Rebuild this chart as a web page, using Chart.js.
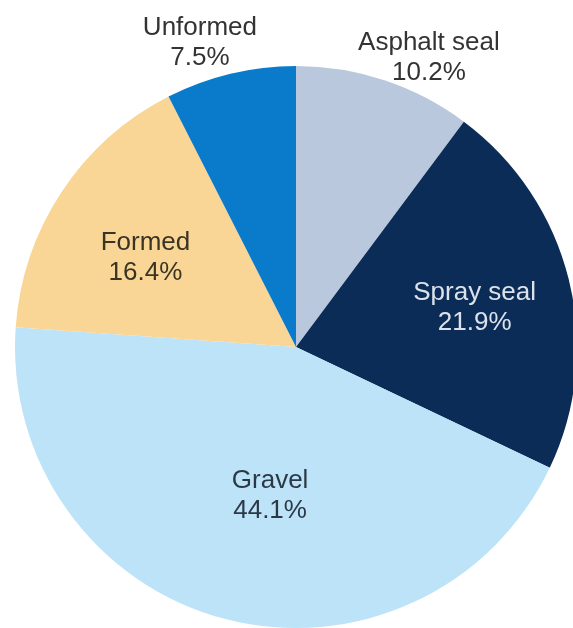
<!DOCTYPE html>
<html>
<head>
<meta charset="utf-8">
<title>Road surface types</title>
<script src="https://cdn.jsdelivr.net/npm/chart.js@4/dist/chart.umd.min.js"></script>
<style>
  html, body { margin: 0; padding: 0; background: #ffffff; overflow: hidden; }
  #wrap { position: relative; width: 573px; height: 628px; overflow: hidden; }
  #pie { position: absolute; left: 0; top: 0; }
</style>
</head>
<body>
<div id="wrap">
  <canvas id="pie" width="580" height="628"></canvas>
</div>
<script>
  // Share of road length by surface type (%)
  const surfaces = ["Asphalt seal", "Spray seal", "Gravel", "Formed", "Unformed"];
  const shares = [10.2, 21.9, 44.1, 16.4, 7.5];

  const sliceColors = ["#b9c8dd", "#0a2c56", "#bde3f8", "#f9d696", "#0a7aca"];
  const labelColors = ["#333333", "#dbe2ec", "#2b3946", "#3a3425", "#333333"];

  // where each label sits: fraction of radius along the slice middle, plus a nudge in px
  const labelSpots = [
    { k: 1.13, dx: 33, dy: 12 },
    { k: 0.6, dx: 15, dy: 1 },
    { k: 0.6, dx: 17, dy: -14 },
    { k: 0.6, dx: -10, dy: 4 },
    { k: 1.13, dx: -22, dy: 5 },
  ];

  const sliceLabels = {
    id: "sliceLabels",
    afterDatasetsDraw(chart) {
      const { ctx } = chart;
      const arcs = chart.getDatasetMeta(0).data;
      ctx.save();
      ctx.font = "26px 'Liberation Sans', Arial, sans-serif";
      ctx.textAlign = "center";
      ctx.textBaseline = "middle";
      arcs.forEach((arc, i) => {
        const mid = (arc.startAngle + arc.endAngle) / 2;
        const spot = labelSpots[i];
        const x = arc.x + Math.cos(mid) * arc.outerRadius * spot.k + spot.dx;
        const y = arc.y + Math.sin(mid) * arc.outerRadius * spot.k + spot.dy;
        ctx.fillStyle = labelColors[i];
        ctx.fillText(surfaces[i], x, y - 15);
        ctx.fillText(shares[i].toFixed(1) + "%", x, y + 15);
      });
      ctx.restore();
    },
  };

  new Chart(document.getElementById("pie"), {
    type: "pie",
    data: {
      labels: surfaces,
      datasets: [
        {
          data: shares,
          backgroundColor: sliceColors,
          borderWidth: 0,
          offset: 0,
          hoverOffset: 0,
        },
      ],
    },
    options: {
      responsive: false,
      animation: false,
      events: [],
      layout: { padding: { left: 15, top: 66, right: 3, bottom: 0 } },
      plugins: {
        legend: { display: false },
        tooltip: { enabled: false },
      },
    },
    plugins: [sliceLabels],
  });
</script>
</body>
</html>
